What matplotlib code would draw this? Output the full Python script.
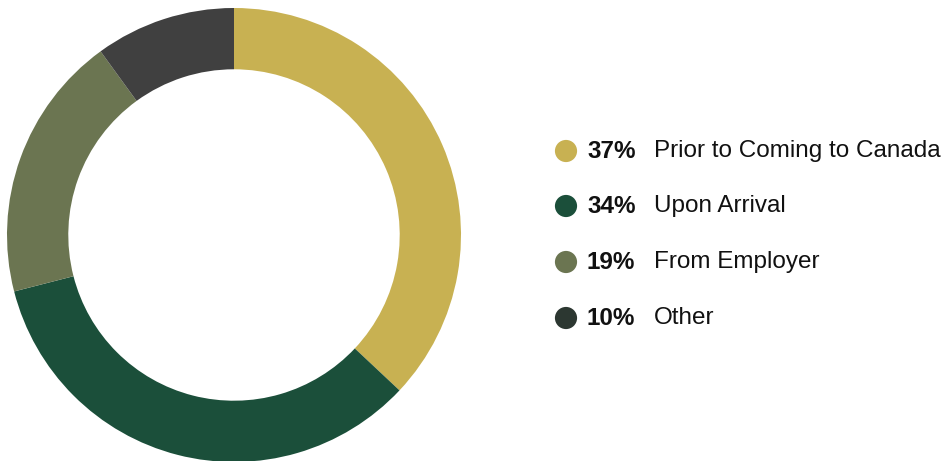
import matplotlib
matplotlib.use('Agg')
import matplotlib.pyplot as plt

categories = ['Prior to Coming to Canada', 'Upon Arrival', 'From Employer', 'Other']
shares = [37, 34, 19, 10]
slice_colors = ['#C8B152', '#1B4F3A', '#6B7551', '#404040']
dot_colors = ['#C8B152', '#1B4F3A', '#6B7551', '#2C3731']

W, H = 943, 461
fig = plt.figure(figsize=(W / 100, H / 100), dpi=100)
plt.rcParams['font.family'] = ['Liberation Sans', 'DejaVu Sans']

# donut, placed in pixel units
cx, cy, r = 234, 235, 227
ax = fig.add_axes([(cx - r) / W, (H - cy - r) / H, 2 * r / W, 2 * r / H])
ax.pie(shares, colors=slice_colors, startangle=90, counterclock=False,
       radius=1, wedgeprops=dict(width=0.27, linewidth=0))
ax.set_xlim(-1, 1)
ax.set_ylim(-1, 1)
ax.set_aspect('equal')
ax.axis('off')

# legend in a pixel-coordinate overlay
lax = fig.add_axes([0, 0, 1, 1])
lax.set_xlim(0, W)
lax.set_ylim(H, 0)
lax.axis('off')
rows_y = [151, 206, 262, 318]
lax.scatter([566] * 4, rows_y, s=255, c=dot_colors, linewidths=0)
for y, pct, name in zip(rows_y, shares, categories):
    lax.text(587, y, f'{pct}%', fontsize=17.5, fontweight='bold', va='center', ha='left', color='#111111')
    lax.text(654, y, name, fontsize=17.5, va='center', ha='left', color='#111111')

fig.savefig('out.png', dpi=100)
